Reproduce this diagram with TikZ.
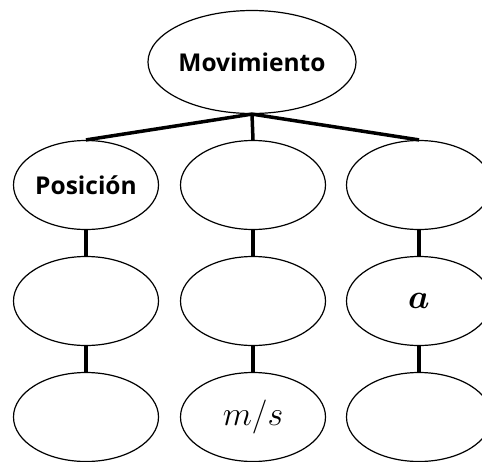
\RequirePackage{fix-cm}
\documentclass[tikz,border=0pt]{standalone}
\usepackage{amsmath}
\usepackage{fontspec}
\setmainfont{Open Sans}
\usetikzlibrary{shapes.geometric}

\begin{document}
\begin{tikzpicture}[x=1pt, y=-1pt,
    bubble/.style={draw, ellipse, line width=1.2pt, minimum width=145pt, minimum height=89pt,
        inner sep=0pt, font=\bfseries\fontsize{24.5}{28}\selectfont},
    mathtext/.style={font=\fontsize{34}{38}\selectfont},
    link/.style={line width=3.5pt}]
    \useasboundingbox (0,0) rectangle (482,461);

    % Top
    \node[bubble, minimum width=169pt, minimum height=103pt] (mov) at (252,62) {Movimiento};

    % Row 1
    \node[bubble] (pos) at (86,185) {Posición};
    \node[bubble] (vel) at (253,185) {};
    \node[bubble] (acc) at (419,185) {};

    % Row 2
    \node[bubble] (pos2) at (86,301) {};
    \node[bubble] (vel2) at (253,301) {};
    \node[bubble, mathtext] (acc2) at (419,301) {$\boldsymbol{a}$};

    % Row 3
    \node[bubble] (pos3) at (86,417) {};
    \node[bubble, mathtext] (vel3) at (253,417) {$m/s$};
    \node[bubble] (acc3) at (419,417) {};

    % Branches
    \draw[link] (mov.south) -- (pos.north);
    \draw[link] (mov.south) -- (vel.north);
    \draw[link] (mov.south) -- (acc.north);

    % Columns
    \draw[link] (pos) -- (pos2);
    \draw[link] (pos2) -- (pos3);
    \draw[link] (vel) -- (vel2);
    \draw[link] (vel2) -- (vel3);
    \draw[link] (acc) -- (acc2);
    \draw[link] (acc2) -- (acc3);
\end{tikzpicture}
\end{document}
